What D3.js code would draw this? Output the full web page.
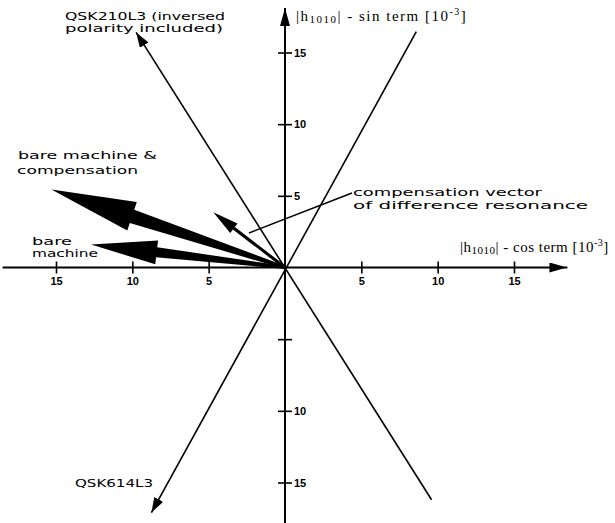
<!DOCTYPE html>
<html>
<head>
<meta charset="utf-8">
<script src="https://cdn.jsdelivr.net/npm/d3@7"></script>
<style>
  body { margin: 0; background: #fff; }
  .cad { font-family: "DejaVu Sans", sans-serif; font-size: 11px; fill: #000; }
  .serif { font-family: "Liberation Serif", "Times New Roman", serif; font-size: 15px; fill: #000; }
  .tick text { font-family: "Liberation Sans", Arial, sans-serif; font-size: 11px; font-weight: bold; fill: #000; }
</style>
</head>
<body>
<svg id="chart" width="615" height="523"></svg>
<script>
// Axis ticks (units of 1e-3)
const xTicks = [-15, -10, -5, 5, 10, 15];
const xTickLabels = ["15", "10", "5", "5", "10", "15"];
const yTicks = [-15, -10, -5, 5, 10, 15];
const yTickLabels = ["15", "10", "", "5", "10", "15"];
const xAxisExtent = [-18.5, 18.5];
const yAxisExtent = [-18.0, 18.1];

// Resonance driving term vectors: [cos term, sin term]
const vectorNames = ["bare machine & compensation", "bare machine", "compensation vector"];
const vectorCos = [-15.3, -12.7, -4.7];
const vectorSin = [5.45, 1.6, 3.85];

// Corrector family lines through the origin: arrow end and opposite end
const lineNames = ["QSK210L3", "QSK614L3"];
const lineArrowEnd = [[-9.75, 16.4], [-8.75, -17.1]];
const lineOtherEnd = [[9.6, -16.2], [8.6, 16.45]];

const svg = d3.select("#chart");
const x = d3.scaleLinear().domain([-15, 15]).range([56, 514]);
const y = d3.scaleLinear().domain([-15, 15]).range([482.5, 52.5]);

const defs = svg.append("defs");
function marker(id, len, half) {
  defs.append("marker")
    .attr("id", id).attr("viewBox", `0 ${-half} ${len} ${2 * half}`)
    .attr("refX", len).attr("refY", 0)
    .attr("markerUnits", "userSpaceOnUse")
    .attr("markerWidth", len).attr("markerHeight", 2 * half)
    .attr("orient", "auto")
    .append("path").attr("d", `M0,${-half}L${len},0L0,${half}Z`).attr("fill", "#000");
}
marker("axisHead", 18, 5);
marker("lineHead", 15, 5);

// Corrector lines
lineNames.forEach((n, i) => {
  svg.append("line")
    .attr("x1", x(lineOtherEnd[i][0])).attr("y1", y(lineOtherEnd[i][1]))
    .attr("x2", x(lineArrowEnd[i][0])).attr("y2", y(lineArrowEnd[i][1]))
    .attr("stroke", "#000").attr("stroke-width", 1.6)
    .attr("marker-end", "url(#lineHead)");
});

// Axes
const xAxis = svg.append("g")
  .attr("transform", `translate(0,${y(0)})`)
  .call(d3.axisBottom(x).tickValues(xTicks)
    .tickFormat((d, i) => xTickLabels[i]).tickSize(6).tickPadding(4));
xAxis.select(".domain").remove();
xAxis.selectAll(".tick line").attr("y1", -6).attr("y2", 6).attr("stroke-width", 1.6);

const yAxis = svg.append("g")
  .attr("transform", `translate(${x(0)},0)`)
  .call(d3.axisRight(y).tickValues(yTicks)
    .tickFormat((d, i) => yTickLabels[i]).tickSize(7).tickPadding(2));
yAxis.select(".domain").remove();
yAxis.selectAll(".tick line").attr("x1", -7).attr("x2", 7).attr("stroke-width", 1.6);

svg.append("line")
  .attr("x1", x(xAxisExtent[0])).attr("y1", y(0))
  .attr("x2", x(xAxisExtent[1])).attr("y2", y(0))
  .attr("stroke", "#000").attr("stroke-width", 2)
  .attr("marker-end", "url(#axisHead)");
svg.append("line")
  .attr("x1", x(0)).attr("y1", y(yAxisExtent[0]))
  .attr("x2", x(0)).attr("y2", y(yAxisExtent[1]))
  .attr("stroke", "#000").attr("stroke-width", 2)
  .attr("marker-end", "url(#axisHead)");

// Solid vector arrows with tapered shafts
function fatArrow(x0, y0, x1, y1, w0, w1, headLen, headW) {
  const dx = x1 - x0, dy = y1 - y0, L = Math.hypot(dx, dy);
  const ux = dx / L, uy = dy / L, nx = -uy, ny = ux;
  const bx = x1 - ux * headLen, by = y1 - uy * headLen;
  return [
    [x0 + nx * w0, y0 + ny * w0], [bx + nx * w1, by + ny * w1],
    [bx + nx * headW, by + ny * headW], [x1, y1],
    [bx - nx * headW, by - ny * headW], [bx - nx * w1, by - ny * w1],
    [x0 - nx * w0, y0 - ny * w0]
  ];
}
const arrowStyle = [
  { w0: 1.5, w1: 7, head: 85, hw: 15 },
  { w0: 1.5, w1: 5, head: 66, hw: 12 },
  { w0: 1.5, w1: 1.6, head: 26, hw: 6 }
];
vectorNames.forEach((n, i) => {
  const s = arrowStyle[i];
  const pts = fatArrow(x(0), y(0), x(vectorCos[i]), y(vectorSin[i]), s.w0, s.w1, s.head, s.hw);
  svg.append("path").attr("d", d3.line()(pts) + "Z").attr("fill", "#000");
});

// Leader from annotation to compensation vector
svg.append("line")
  .attr("x1", 352).attr("y1", 193).attr("x2", 249).attr("y2", 233)
  .attr("stroke", "#000").attr("stroke-width", 1.4);

// Labels
const labels = [
  { t: "QSK210L3 (inversed", x: 65, y: 20, w: 160 },
  { t: "polarity included)", x: 65, y: 32, w: 158 },
  { t: "bare machine &", x: 18, y: 159, w: 139 },
  { t: "compensation", x: 17, y: 174, w: 121 },
  { t: "bare", x: 32, y: 245, w: 40 },
  { t: "machine", x: 32, y: 257, w: 66 },
  { t: "compensation vector", x: 353, y: 196, w: 189 },
  { t: "of difference resonance", x: 353, y: 209, w: 235 },
  { t: "QSK614L3", x: 75, y: 487, w: 78 }
];
labels.forEach(l => {
  svg.append("text").attr("class", "cad")
    .attr("x", l.x).attr("y", l.y)
    .attr("textLength", l.w).attr("lengthAdjust", "spacingAndGlyphs")
    .text(l.t);
});

function axisTitle(xp, yp, term, spacing) {
  const t = svg.append("text").attr("class", "serif")
    .attr("x", xp).attr("y", yp).style("letter-spacing", spacing + "px");
  t.append("tspan").text("|h");
  t.append("tspan").attr("font-size", "11px").attr("dy", 1.5).text("1010");
  t.append("tspan").attr("dy", -1.5).text("| - " + term + " [10");
  t.append("tspan").attr("font-size", "10px").attr("dy", -6).text("-3");
  t.append("tspan").attr("dy", 6).text("]");
}
axisTitle(296, 21, "sin term", 1.5);
axisTitle(460, 252, "cos term", 0.5);
</script>
</body>
</html>
